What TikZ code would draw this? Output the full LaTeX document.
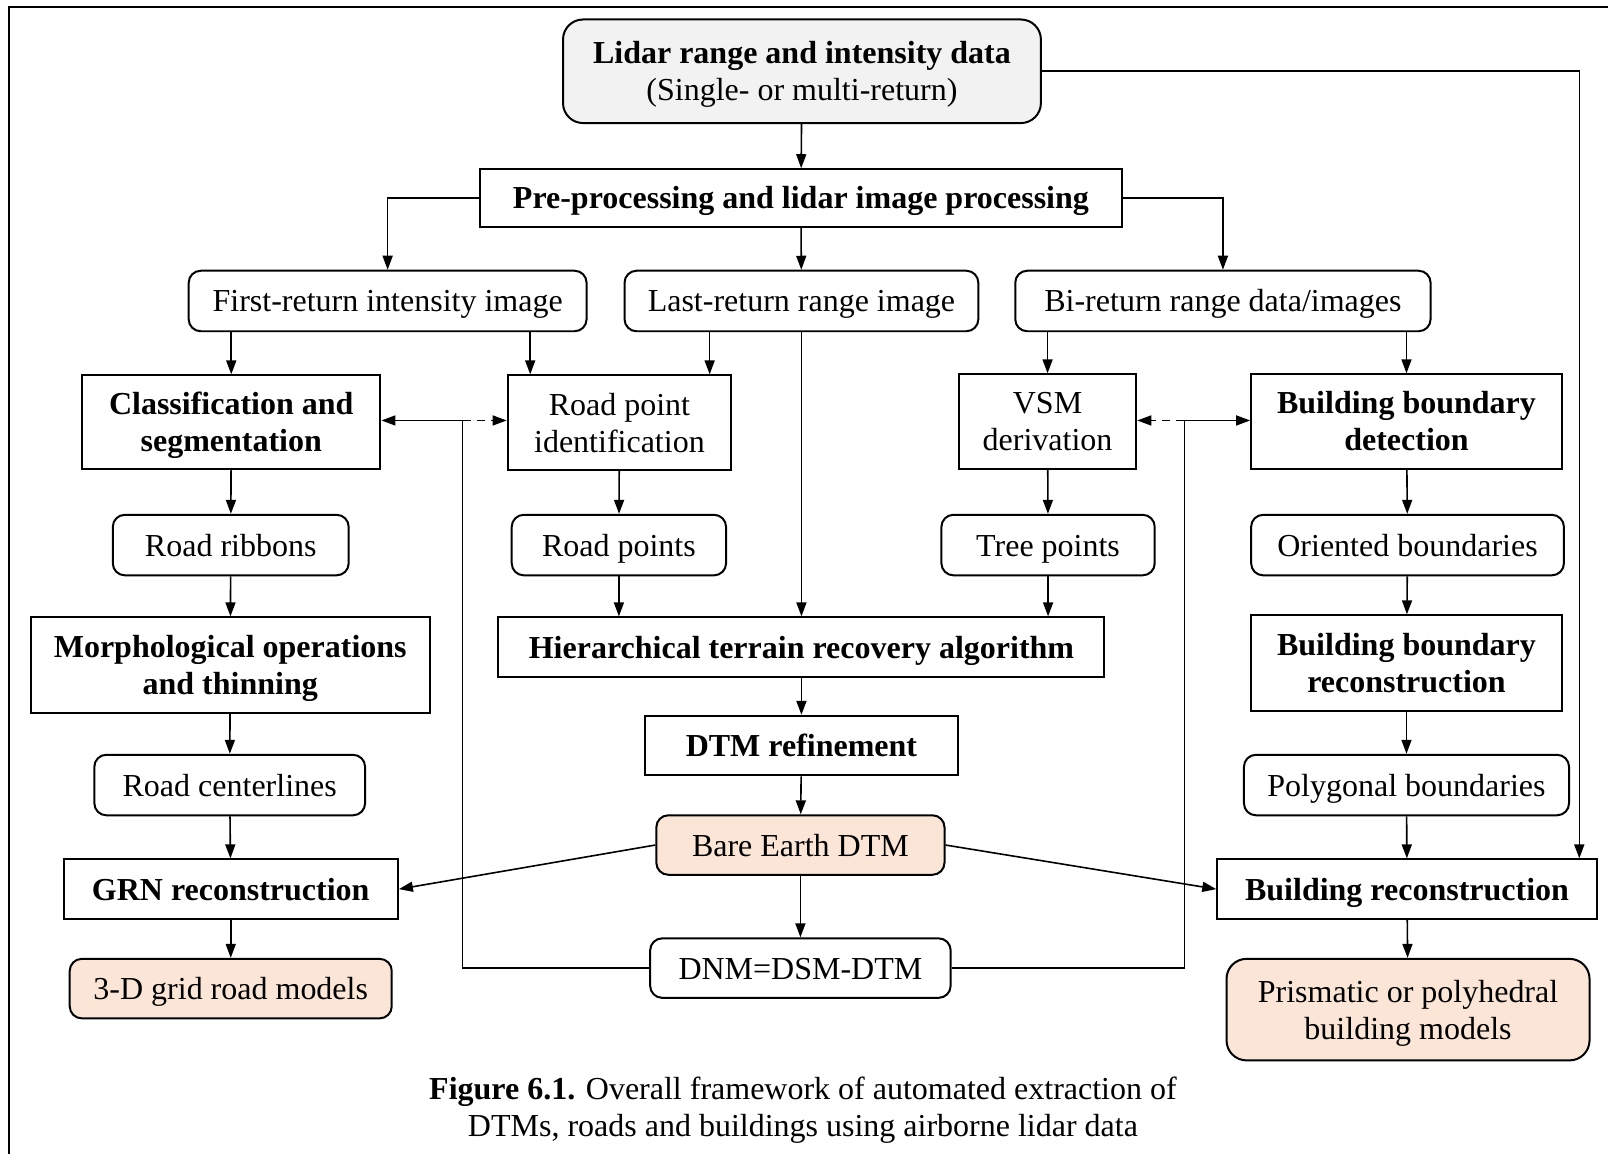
\documentclass[tikz,border=0pt]{standalone}
\usepackage{fontspec}
\setmainfont{Liberation Serif}
\usetikzlibrary{arrows.meta}
\definecolor{peach}{HTML}{FBE5D6}
\definecolor{lightgray}{HTML}{F2F2F2}
\def\u{0.5128pt}
\tikzset{
  box/.style={draw, line width=1pt, inner sep=0pt, align=center,
    font=\fontsize{16}{18.5}\selectfont},
  rbox/.style={box, rounded corners=6pt},
  bbox/.style={box, font=\fontsize{16}{18.5}\selectfont\bfseries},
  outbox/.style={rbox, fill=peach},
  arr/.style={line width=0.8pt, -{Triangle[length=7pt,width=5pt]}},
  dasharr/.style={arr, dash pattern=on 4pt off 3pt},
}
% place a box by its centre (cx,cy) and size (w,h), all in pixel units;
% #7 is the height of the text block above its last baseline, so that
% every label sits on the same optical centre whatever its descenders
\newcommand\bx[8]{\node[#6, minimum width=#4*\u, minimum height=#5*\u] (#1) at (#2,#3)
  {\raisebox{0pt}[#7][0pt]{\begin{tabular}[b]{@{}c@{}}#8\end{tabular}}};}
\def\one{11pt}
\def\two{29.5pt}
\begin{document}
\begin{tikzpicture}[x=\u, y=-\u]
\useasboundingbox (0,0) rectangle (1568,1125);
% outer frame (top and left edges)
\draw[line width=1.1pt] (9,1125) -- (9,6.8) -- (1568,6.8);

% input
\bx{lidar}{782}{69.5}{466}{101}{box, rounded corners=10pt, fill=lightgray}{\two}{\textbf{Lidar range and intensity data}\\(Single- or multi-return)}
\bx{pre}{781}{193}{626}{56}{bbox}{\one}{Pre-processing and lidar image processing}

% derived images
\bx{first}{378}{293.5}{388}{59}{rbox}{\one}{First-return intensity image}
\bx{last}{781.5}{293.5}{345}{59}{rbox}{\one}{Last-return range image}
\bx{bi}{1192.5}{293.5}{405}{59}{rbox}{\one}{Bi-return range data/images}

% detection stage
\bx{cls}{225.5}{411.5}{291}{91}{bbox}{\two}{Classification and\\segmentation}
\bx{rpi}{604}{412}{218}{92}{box}{\two}{Road point\\identification}
\bx{vsm}{1021.5}{411}{173}{92}{box}{\two}{VSM\\derivation}
\bx{bbd}{1371.5}{411}{303}{92}{bbox}{\two}{Building boundary\\detection}

\bx{rib}{225}{531.5}{230}{59}{rbox}{\one}{Road ribbons}
\bx{rpts}{603.5}{531.5}{209}{59}{rbox}{\one}{Road points}
\bx{tree}{1022}{531.5}{208}{59}{rbox}{\one}{Tree points}
\bx{orient}{1372.5}{531.5}{305}{59}{rbox}{\one}{Oriented boundaries}

\bx{morph}{224.5}{648.5}{389}{93}{bbox}{\two}{Morphological operations\\and thinning}
\bx{htr}{781.5}{631}{591}{58}{bbox}{\one}{Hierarchical terrain recovery algorithm}
\bx{bbr}{1371.5}{646.5}{303}{93}{bbox}{\two}{Building boundary\\reconstruction}

\bx{dtmr}{781.5}{727}{305}{58}{bbox}{\one}{DTM refinement}
\bx{cent}{224}{765.5}{264}{59}{rbox}{\one}{Road centerlines}
\bx{poly}{1371.5}{765.5}{317}{59}{rbox}{\one}{Polygonal boundaries}

\bx{bare}{780.5}{824}{281}{58}{outbox}{\one}{Bare Earth DTM}
\bx{grn}{225}{867}{326}{58}{bbox}{\one}{GRN reconstruction}
\bx{brec}{1372}{867}{370}{58}{bbox}{\one}{Building reconstruction}

\bx{dnm}{780.5}{944}{293}{58}{rbox}{\one}{DNM=DSM-DTM}
\bx{grid}{225}{964}{314}{58}{outbox}{\one}{3-D grid road models}
\bx{prism}{1373}{984.5}{354}{99}{outbox, rounded corners=10pt}{\two}{Prismatic or polyhedral\\building models}

% caption
\node[align=center, font=\fontsize{16}{18.5}\selectfont, inner sep=0pt] (cap) at (783,1083)
  {\textbf{Figure 6.1.} Overall framework of automated extraction of\\DTMs, roads and buildings using airborne lidar data};

% helper columns and junctions
\coordinate (xa) at (517,0);
\coordinate (xb) at (692,0);
\coordinate (xr) at (1540,0);
\coordinate (jl) at (451,410);
\coordinate (jr) at (1155,410);

% connectors
\draw[arr] (lidar) -- (pre);
\draw[arr] (lidar.east) -| (xr |- brec.north);
\draw[arr] (pre.west) -| (first.north);
\draw[arr] (pre) -- (last);
\draw[arr] (pre.east) -| (bi.north);

\draw[arr] (first.south -| cls.north) -- (cls.north);
\draw[arr] (first.south -| xa) -- (rpi.north -| xa);
\draw[arr] (last.south -| xb) -- (rpi.north -| xb);
\draw[arr] (last.south) -- (htr.north);
\draw[arr] (bi.south -| vsm.north) -- (vsm.north);
\draw[arr] (bi.south -| bbd.north) -- (bbd.north);

\draw[arr] (cls) -- (rib);
\draw[arr] (rib) -- (morph);
\draw[arr] (morph) -- (cent);
\draw[arr] (cent) -- (grn);
\draw[arr] (grn) -- (grid);

\draw[arr] (rpi) -- (rpts);
\draw[arr] (rpts.south) -- (htr.north -| rpts.south);
\draw[arr] (vsm) -- (tree);
\draw[arr] (tree.south) -- (htr.north -| tree.south);

\draw[arr] (bbd) -- (orient);
\draw[arr] (orient) -- (bbr);
\draw[arr] (bbr) -- (poly);
\draw[arr] (poly) -- (brec);
\draw[arr] (brec) -- (prism);

\draw[arr] (htr) -- (dtmr);
\draw[arr] (dtmr) -- (bare);
\draw[arr] (bare) -- (dnm);
\draw[arr] (bare.west) -- (grn.east);
\draw[arr] (bare.east) -- (brec.west);

\draw[arr] (dnm.west) -| (jl) -- (cls.east |- jl);
\draw[dasharr] (jl) -- (rpi.west |- jl);
\draw[arr] (dnm.east) -| (jr) -- (bbd.west |- jr);
\draw[dasharr] (jr) -- (vsm.east |- jr);
\end{tikzpicture}
\end{document}
